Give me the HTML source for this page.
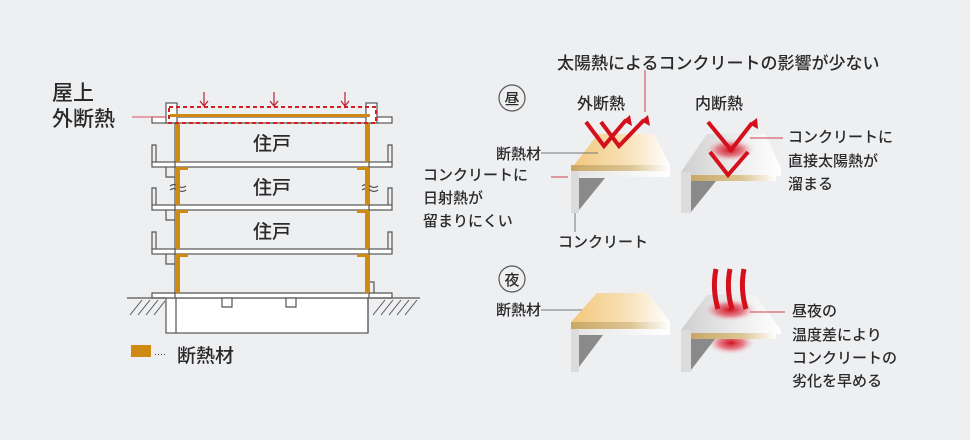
<!DOCTYPE html>
<html><head><meta charset="utf-8"><style>
html,body{margin:0;padding:0;background:#eeeff1}
svg{display:block}
text{font-family:"Liberation Sans","Noto Sans CJK JP",sans-serif;fill:#2a2a2a;font-weight:500}
</style></head><body>
<svg width="970" height="440" viewBox="0 0 970 440" xmlns="http://www.w3.org/2000/svg">
<defs>
<linearGradient id="gold" x1="0" y1="0" x2="1" y2="0"><stop offset="0" stop-color="#f2c77a"/><stop offset="0.6" stop-color="#f8e3bd"/><stop offset="1" stop-color="#fff"/></linearGradient>
<linearGradient id="band" x1="0" y1="0" x2="1" y2="0"><stop offset="0" stop-color="#c9a866"/><stop offset="0.6" stop-color="#dcc594"/><stop offset="1" stop-color="#fff"/></linearGradient>
<linearGradient id="gray" x1="0" y1="0" x2="1" y2="0"><stop offset="0" stop-color="#cfcfcf"/><stop offset="0.6" stop-color="#eee"/><stop offset="1" stop-color="#fff"/></linearGradient>
<linearGradient id="white" x1="0" y1="0" x2="1" y2="0"><stop offset="0" stop-color="#e4e4e4"/><stop offset="1" stop-color="#fff"/></linearGradient>
<radialGradient id="heat"><stop offset="0" stop-color="#d0101e"/><stop offset="0.5" stop-color="#e25060" stop-opacity="0.7"/><stop offset="1" stop-color="#f0f0f0" stop-opacity="0"/></radialGradient>
</defs>
<rect width="970" height="440" fill="#eeeff1"/>

<g fill="#fff" stroke="#555" stroke-width="1.2">
<rect x="166" y="298" width="202" height="35"/>
<path d="M152 293 H392 V298 H152 Z"/>
<path d="M222 298 h10 v9 h-10z M286 298 h10 v9 h-10z"/>
<rect x="152" y="162" width="240" height="5"/>
<rect x="152" y="205" width="240" height="5"/>
<rect x="152" y="249" width="240" height="5"/>
<rect x="152" y="117" width="240" height="6"/>
<rect x="166" y="103" width="11" height="20"/>
<rect x="366" y="103" width="11" height="20"/>
</g>
<g stroke="#555" stroke-width="1.2" fill="none">
<path d="M175 123 V298 M369 123 V298 M176 298 V333 M368 298 V333"/>
<path d="M152 162 V145 h4 V162 M388 162 V145 h4 V162"/>
<path d="M152 205 V188 h4 V205 M388 205 V188 h4 V205"/>
<path d="M152 249 V232 h4 V249 M388 249 V232 h4 V249"/>
<path d="M166 167 v10 h9 M366 167 v10 h3 M166 210 v10 h9 M366 210 v10 h3 M166 254 v10 h9 M366 254 v10 h3"/>
<path d="M370 282 h4 v11"/>
<path d="M170 186 q4 -3 8 0 q4 3 8 0 M170 190 q4 -3 8 0 q4 3 8 0 M362 186 q4 -3 8 0 q4 3 8 0 M362 190 q4 -3 8 0 q4 3 8 0"/>
<path d="M127 298 H165 M370 298 H420"/>
<path d="M130 315 l12 -15 M138 315 l12 -15 M146 315 l12 -15 M154 315 l11 -14 M373 315 l12 -15 M381 315 l12 -15 M389 315 l12 -15 M397 315 l12 -15 M405 315 l12 -15" stroke-width="1"/>
</g>
<g fill="#d08a12">
<rect x="176" y="123" width="4" height="39"/><rect x="176" y="167" width="4" height="38"/><rect x="176" y="210" width="4" height="39"/><rect x="176" y="254" width="4" height="39"/>
<rect x="365" y="123" width="4" height="39"/><rect x="365" y="167" width="4" height="38"/><rect x="365" y="210" width="4" height="39"/><rect x="365" y="254" width="4" height="39"/>
<rect x="170" y="114" width="200" height="3"/>
<rect x="176" y="167" width="12" height="3"/><rect x="357" y="167" width="12" height="3"/>
<rect x="176" y="210" width="12" height="3"/><rect x="357" y="210" width="12" height="3"/>
<rect x="176" y="254" width="12" height="3"/><rect x="357" y="254" width="12" height="3"/>
<rect x="131" y="345" width="20" height="12"/>
</g>
<rect x="169" y="107" width="207" height="16" fill="none" stroke="#d42020" stroke-width="2" stroke-dasharray="4 3"/>
<g stroke="#c02030" stroke-width="1.2" fill="none">
<path d="M204 92 V106 M274 92 V106 M345 92 V106"/>
<path d="M200 101 l4 5 l4 -5 M270 101 l4 5 l4 -5 M341 101 l4 5 l4 -5"/>
<path d="M132 117 H166" stroke="#e07080"/>
</g>
<text x="52" y="100" font-size="21">屋上</text>
<text x="52" y="126" font-size="21">外断熱</text>
<text x="272" y="150" font-size="19" text-anchor="middle">住戸</text>
<text x="272" y="194" font-size="19" text-anchor="middle">住戸</text>
<text x="272" y="238" font-size="19" text-anchor="middle">住戸</text>
<text x="154" y="357" font-size="9" fill="#666">····</text>
<text x="177" y="362" font-size="19">断熱材</text>

<text x="557" y="69" font-size="17">太陽熱によるコンクリートの影響が少ない</text>
<circle cx="512" cy="98" r="13" fill="none" stroke="#555" stroke-width="1.2"/>
<text x="512" y="104" font-size="15" text-anchor="middle">昼</text>
<text x="577" y="109" font-size="16">外断熱</text>
<text x="695" y="109" font-size="16">内断熱</text>
<path d="M571 169 L598 134 L654 134 L670 165 L670 171 L571 171 Z" fill="url(#gold)"/>
<rect x="571" y="165" width="99" height="6" fill="url(#band)"/>
<rect x="571" y="171" width="99" height="6" fill="url(#white)"/>
<rect x="571" y="171" width="8" height="42" fill="#dcdcdc"/>
<path d="M579 178 H605 L579 210 Z" fill="#8a8a8a"/>
<path d="M681 172 L707 134 L765 134 L781 168 L781 176 L681 176 Z" fill="url(#gray)"/>
<ellipse cx="730" cy="150" rx="26" ry="12" fill="url(#heat)"/>
<rect x="691" y="175" width="85" height="6" fill="url(#band)"/>
<rect x="681" y="172" width="10" height="41" fill="#dcdcdc"/>
<path d="M691 181 H716 L691 212 Z" fill="#8a8a8a"/>
<g stroke="#d4101c" stroke-width="4" fill="none">
<path d="M586 122 L604 146 L626 120"/>
<path d="M601 122 L619 146 L644 120"/>
<path d="M708 122 L731 150 L752 123"/>
<path d="M710 152 L728 175 L748 152"/>
</g>
<g fill="#d4101c">
<path d="M630 115 l2 11 l-9 -5z"/><path d="M648 115 l2 11 l-9 -5z"/><path d="M757 118 l1 11 l-9 -5z"/>
</g>
<g stroke-width="1" fill="none">
<path d="M645 70 V112" stroke="#d04050"/>
<path d="M541 153 H598" stroke="#777"/>
<path d="M551 177 H568" stroke="#d04050"/>
<path d="M575 213 V232" stroke="#777"/>
<path d="M750 138 H783" stroke="#d04050"/>
</g>
<text x="496" y="159" font-size="15">断熱材</text>
<text x="423" y="180" font-size="15">コンクリートに</text>
<text x="423" y="203" font-size="15">日射熱が</text>
<text x="423" y="226" font-size="15">留まりにくい</text>
<text x="558" y="247" font-size="15">コンクリート</text>
<text x="788" y="142" font-size="15">コンクリートに</text>
<text x="788" y="166" font-size="15">直接太陽熱が</text>
<text x="788" y="189" font-size="15">溜まる</text>

<circle cx="512" cy="279" r="13" fill="none" stroke="#555" stroke-width="1.2"/>
<text x="512" y="285" font-size="15" text-anchor="middle">夜</text>
<text x="496" y="315" font-size="15">断熱材</text>
<path d="M541 310 H583" stroke="#777" stroke-width="1"/>
<path d="M571 322 L597 293 L648 293 L670 322 L670 329 L571 329 Z" fill="url(#gold)"/>
<rect x="571" y="322" width="99" height="7" fill="url(#band)"/>
<rect x="571" y="329" width="99" height="6" fill="url(#white)"/>
<rect x="571" y="329" width="8" height="43" fill="#dcdcdc"/>
<path d="M579 335 H603 L579 367 Z" fill="#8a8a8a"/>
<path d="M681 330 L707 295 L755 295 L781 330 L781 334 L681 334 Z" fill="url(#gray)"/>
<ellipse cx="730" cy="310" rx="28" ry="12" fill="url(#heat)"/>
<ellipse cx="731" cy="343" rx="25" ry="12" fill="url(#heat)"/>
<rect x="691" y="333" width="85" height="6" fill="url(#band)"/>
<rect x="681" y="330" width="10" height="42" fill="#dcdcdc"/>
<path d="M691 339 H715 L691 370 Z" fill="#8a8a8a"/>
<g stroke="#d4101c" stroke-width="5" fill="none">
<path d="M716 269 q-4 20 2 40"/><path d="M730 269 q-4 20 2 40"/><path d="M744 269 q-4 20 2 40"/>
</g>
<path d="M750 312 H785" stroke="#d04050" stroke-width="1"/>
<text x="792" y="316" font-size="15">昼夜の</text>
<text x="792" y="340" font-size="15">温度差により</text>
<text x="792" y="363" font-size="15">コンクリートの</text>
<text x="792" y="386" font-size="15">劣化を早める</text>
</svg>
</body></html>
